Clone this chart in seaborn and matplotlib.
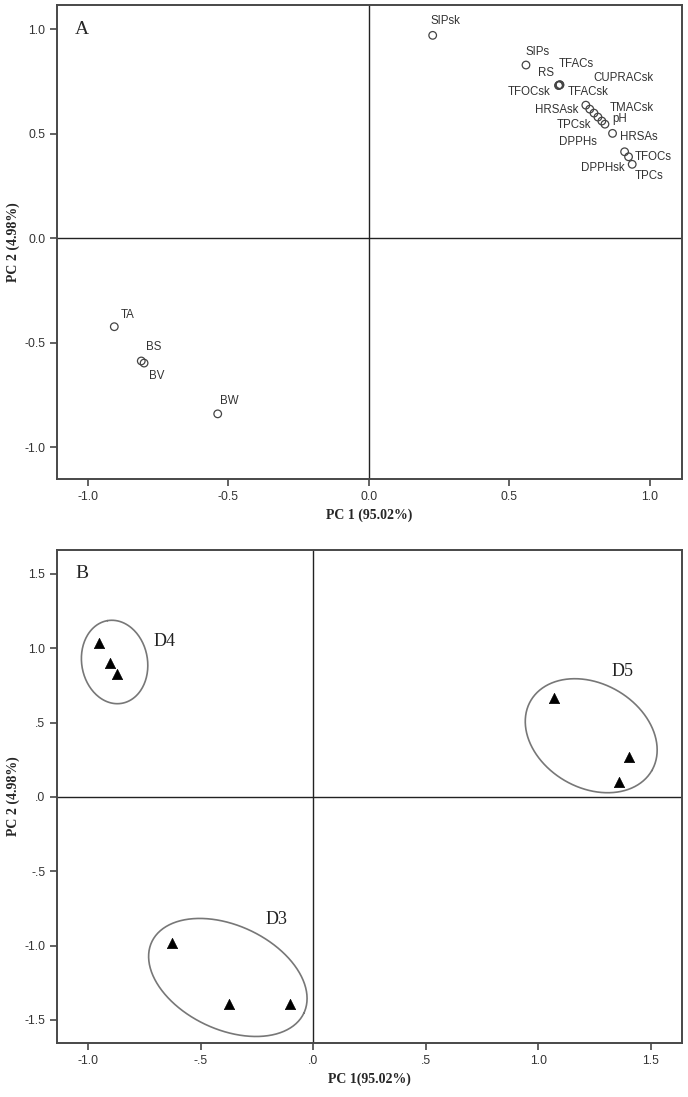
import numpy as np
import pandas as pd
import matplotlib
matplotlib.use("Agg")
import matplotlib.pyplot as plt
import seaborn as sns

# ---------------------------------------------------------------
# Data
# ---------------------------------------------------------------
# Panel A: loadings
var_names = ['SIPsk', 'SIPs', 'TFACs', 'RS', 'TFOCsk', 'TFACsk',
             'HRSAsk', 'CUPRACsk', 'TMACsk', 'TPCsk', 'pH', 'DPPHs',
             'HRSAs', 'DPPHsk', 'TFOCs', 'TPCs',
             'TA', 'BS', 'BV', 'BW']
pc1_load = [0.227, 0.559, 0.679, 0.676, 0.675, 0.680,
            0.772, 0.786, 0.801, 0.815, 0.829, 0.840,
            0.867, 0.910, 0.924, 0.937,
            -0.906, -0.810, -0.800, -0.538]
pc2_load = [0.970, 0.828, 0.734, 0.731, 0.730, 0.733,
            0.636, 0.617, 0.598, 0.579, 0.560, 0.545,
            0.501, 0.413, 0.389, 0.353,
            -0.424, -0.588, -0.598, -0.841]
# label offsets (pixels) so the names sit like in the original
lab_dx = [13, 12, 17, -13, -29, 28, -29, 34, 38, -24, 18, -27, 26, -22, 25, 17, 13, 12, 13, 12]
lab_dy = [14, 13, 21, 12, -6, -7, -5, 31, 5, -8, 2, -18, -4, -16, 0, -12, 12, 14, -13, 13]

# Panel B: scores
group = ['D4', 'D4', 'D4', 'D3', 'D3', 'D3', 'D5', 'D5', 'D5']
pc1_score = [-0.950, -0.902, -0.873, -0.625, -0.376, -0.105, 1.071, 1.403, 1.360]
pc2_score = [1.034, 0.903, 0.825, -0.984, -1.392, -1.392, 0.668, 0.271, 0.103]

# cluster outlines: centre, half-axis vectors (data units), label position
clusters = ['D4', 'D3', 'D5']
ell_center = [(-0.882, 0.908), (-0.379, -1.214), (1.235, 0.412)]
ell_major = [(-0.032, 0.278), (0.338, -0.239), (0.269, -0.235)]
ell_minor = [(0.144, 0.038), (-0.098, -0.317), (-0.116, -0.303)]
clus_lab_pos = [(-0.662, 1.044), (-0.164, -0.822), (1.375, 0.847)]

xticks_a = [-1.0, -0.5, 0.0, 0.5, 1.0]
yticks_a = [-1.0, -0.5, 0.0, 0.5, 1.0]
ticklab_a = ['-1.0', '-0.5', '0.0', '0.5', '1.0']
xticks_b = [-1.0, -0.5, 0.0, 0.5, 1.0, 1.5]
xticklab_b = ['-1.0', '-.5', '.0', '.5', '1.0', '1.5']
yticks_b = [-1.5, -1.0, -0.5, 0.0, 0.5, 1.0, 1.5]
yticklab_b = ['-1.5', '-1.0', '-.5', '.0', '.5', '1.0', '1.5']

df_a = pd.DataFrame({'name': var_names, 'PC1': pc1_load, 'PC2': pc2_load})
df_b = pd.DataFrame({'group': group, 'PC1': pc1_score, 'PC2': pc2_score})

# ---------------------------------------------------------------
# Style
# ---------------------------------------------------------------
sns.set_style("white")
plt.rcParams['font.family'] = ['Liberation Sans', 'DejaVu Sans']
frame_col = '#484848'
serif = ['Liberation Serif', 'DejaVu Serif']

fig = plt.figure(figsize=(6.88, 10.97), dpi=100)
ax1 = fig.add_axes([0.0828, 0.5633, 0.9084, 0.4321])
ax2 = fig.add_axes([0.0828, 0.0492, 0.9084, 0.4494])


def style_axes(ax, xlabel, ylabel):
    for s in ax.spines.values():
        s.set_color(frame_col)
        s.set_linewidth(1.4)
    ax.axhline(0, color='#222222', lw=1.0, zorder=1)
    ax.axvline(0, color='#222222', lw=1.0, zorder=1)
    ax.tick_params(axis='both', which='major', direction='out', length=5, width=1.2,
                   color=frame_col, labelsize=8.8, labelcolor='#333333',
                   bottom=True, left=True, top=False, right=False)
    ax.set_xlabel(xlabel, family=serif, fontweight='bold', fontsize=10, labelpad=4)
    ax.set_ylabel(ylabel, family=serif, fontweight='bold', fontsize=10, labelpad=3)
    ax.grid(False)


# ---------------------------------------------------------------
# Panel A
# ---------------------------------------------------------------
sns.scatterplot(data=df_a, x='PC1', y='PC2', ax=ax1, marker='o', s=30,
                facecolor='none', edgecolor='#444444', linewidth=0.9, zorder=3)
for i, row in df_a.iterrows():
    ax1.annotate(row['name'], (row['PC1'], row['PC2']), xytext=(lab_dx[i], lab_dy[i]),
                 textcoords='offset pixels', ha='center', va='center',
                 fontsize=8.3, color='#333333')
ax1.set_xlim(-1.11, 1.114)
ax1.set_ylim(-1.153, 1.115)
ax1.set_xticks(xticks_a, ticklab_a)
ax1.set_yticks(yticks_a, ticklab_a)
style_axes(ax1, 'PC 1 (95.02%)', 'PC 2 (4.98%)')
ax1.text(0.04, 0.949, 'A', transform=ax1.transAxes, family=serif, fontsize=14,
         ha='center', va='center')

# ---------------------------------------------------------------
# Panel B
# ---------------------------------------------------------------
sns.scatterplot(data=df_b, x='PC1', y='PC2', ax=ax2, marker='^', s=55,
                color='black', edgecolor='black', linewidth=0.5, zorder=3)
t = np.linspace(0, 2 * np.pi, 200)
for k, name in enumerate(clusters):
    cx, cy = ell_center[k]
    (ax_, ay_), (bx_, by_) = ell_major[k], ell_minor[k]
    ax2.plot(cx + ax_ * np.cos(t) + bx_ * np.sin(t),
             cy + ay_ * np.cos(t) + by_ * np.sin(t),
             color='#777777', lw=1.2, zorder=2)
    ax2.text(clus_lab_pos[k][0], clus_lab_pos[k][1], name, family=serif,
             fontsize=13, ha='center', va='center', color='#222222')
ax2.set_xlim(-1.138, 1.638)
ax2.set_ylim(-1.655, 1.661)
ax2.set_xticks(xticks_b, xticklab_b)
ax2.set_yticks(yticks_b, yticklab_b)
style_axes(ax2, 'PC 1(95.02%)', 'PC 2 (4.98%)')
ax2.text(0.04, 0.953, 'B', transform=ax2.transAxes, family=serif, fontsize=14,
         ha='center', va='center')

fig.savefig('out.png', dpi=100)
